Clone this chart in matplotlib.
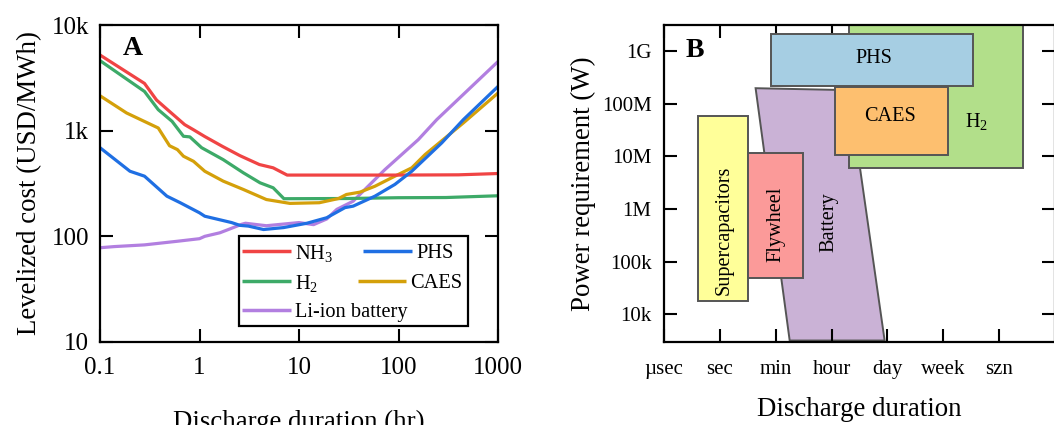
import matplotlib
matplotlib.use("Agg")
import matplotlib.pyplot as plt
from matplotlib.patches import Rectangle, Polygon
from matplotlib.ticker import FixedLocator, NullLocator

plt.rcParams["font.family"] = ["Liberation Serif", "DejaVu Serif"]
plt.rcParams["mathtext.fontset"] = "custom"
plt.rcParams["mathtext.rm"] = "Liberation Serif"
plt.rcParams["mathtext.it"] = "Liberation Serif:italic"

# ---- A: levelized cost vs discharge duration (hr) ----
nh3_x = [0.1, 0.28, 0.37, 0.5, 0.71, 0.87, 1.13, 1.7, 2.55, 4.0, 5.5, 7.6, 20, 100, 400, 1000]
nh3_y = [5200, 2800, 1950, 1520, 1140, 1020, 880, 710, 580, 478, 445, 380, 380, 380, 382, 393]

h2_x = [0.1, 0.28, 0.385, 0.53, 0.69, 0.8, 1.05, 1.73, 2.75, 4.06, 5.5, 7.06, 30, 100, 300, 1000]
h2_y = [4600, 2350, 1580, 1225, 885, 873, 690, 532, 400, 321, 288, 227, 228, 232, 233, 242]

caes_x = [0.1, 0.185, 0.385, 0.5, 0.6, 0.69, 0.87, 1.13, 1.73, 2.75, 4.7, 8.1, 16, 25, 30, 41,
          58, 92, 136, 185, 448, 1000]
caes_y = [2140, 1470, 1060, 720, 662, 573, 513, 413, 333, 278, 223, 205, 208, 228, 249, 262,
          298, 371, 445, 594, 1183, 2270]

phs_x = [0.1, 0.2, 0.28, 0.47, 0.64, 1.0, 1.13, 2.1, 2.55, 3.1, 4.4, 7, 12, 19, 29, 35,
         58, 92, 136, 272, 448, 1000]
phs_y = [690, 413, 371, 240, 208, 167, 155, 135, 127, 125, 116, 121, 133, 150, 187, 193,
         240, 310, 413, 766, 1270, 2620]

li_x = [0.1, 0.14, 0.28, 0.61, 1.0, 1.13, 1.6, 1.95, 2.65, 2.9, 4.7, 10, 14, 19, 24, 35,
        46, 73, 158, 242, 1000]
li_y = [78, 80, 83, 90, 95, 100, 108, 116, 130, 133, 126, 135, 129, 146, 180, 215,
        278, 428, 822, 1270, 4510]

cost_ticks = [10, 100, 1000, 10000]
cost_ticklabels = ["10", "100", "1k", "10k"]
hr_ticks = [0.1, 1, 10, 100, 1000]
hr_ticklabels = ["0.1", "1", "10", "100", "1000"]

# ---- B: power vs duration ranges (duration on a category scale) ----
duration_labels = ["\u00b5sec", "sec", "min", "hour", "day", "week", "szn"]
power_ticks = [1e4, 1e5, 1e6, 1e7, 1e8, 1e9]
power_ticklabels = ["10k", "100k", "1M", "10M", "100M", "1G"]

# name: (x0, x1, p0, p1)
tech_boxes = {
    "H2": (3.32, 6.43, 5.9e6, 4e9),
    "PHS": (1.92, 5.53, 2.14e8, 2.05e9),
    "CAES": (3.06, 5.08, 1.05e7, 2.07e8),
    "Supercapacitors": (0.60, 1.51, 1.78e4, 5.85e7),
    "Flywheel": (1.51, 2.49, 4.93e4, 1.16e7),
}
battery_x = [1.64, 3.31, 3.95, 2.25]
battery_p = [1.96e8, 1.8e8, 3.2e3, 3.2e3]

colors = {"NH3": "#F04444", "H2": "#3DAA68", "CAES": "#D4A00A",
          "PHS": "#1F6FE3", "Li": "#B27FE0"}
fills = {"H2": "#B2DF8A", "PHS": "#A6CEE3", "CAES": "#FDBF6F",
         "Supercapacitors": "#FFFF99", "Flywheel": "#FB9A99", "Battery": "#CAB2D6"}

fig = plt.figure(figsize=(10.54, 4.25), dpi=100)
ax1 = fig.add_axes([100 / 1054, 83 / 425, 398 / 1054, 317 / 425])
ax2 = fig.add_axes([664 / 1054, 83 / 425, 391 / 1054, 317 / 425])

lw = 2.3
ax1.plot(li_x, li_y, color=colors["Li"], lw=lw)
ax1.plot(h2_x, h2_y, color=colors["H2"], lw=lw)
ax1.plot(caes_x, caes_y, color=colors["CAES"], lw=lw)
ax1.plot(nh3_x, nh3_y, color=colors["NH3"], lw=lw)
ax1.plot(phs_x, phs_y, color=colors["PHS"], lw=lw)
ax1.set_xscale("log")
ax1.set_yscale("log")
ax1.set_xlim(0.1, 1000)
ax1.set_ylim(10, 10000)
ax1.xaxis.set_major_locator(FixedLocator(hr_ticks))
ax1.xaxis.set_minor_locator(NullLocator())
ax1.set_xticklabels(hr_ticklabels)
ax1.yaxis.set_major_locator(FixedLocator(cost_ticks))
ax1.yaxis.set_minor_locator(NullLocator())
ax1.set_yticklabels(cost_ticklabels)
ax1.tick_params(axis="x", labelsize=18, pad=11)
ax1.tick_params(axis="y", labelsize=18, pad=8)
ax1.set_xlabel("Discharge duration (hr)", fontsize=19.4, labelpad=22)
ax1.set_ylabel("Levelized cost (USD/MWh)", fontsize=19.4, labelpad=7)
ax1.text(0.058, 0.925, "A", transform=ax1.transAxes, fontsize=20,
         fontweight="bold", va="center", ha="left")

# hand-placed legend: Li-ion entry spans under both columns
leg_entries = [
    ("NH$_\\mathrm{3}$", colors["NH3"], 0.3575, 0.480, 0.287),
    ("H$_\\mathrm{2}$", colors["H2"], 0.3575, 0.480, 0.192),
    ("Li-ion battery", colors["Li"], 0.3575, 0.480, 0.101),
    ("PHS", colors["PHS"], 0.662, 0.785, 0.287),
    ("CAES", colors["CAES"], 0.649, 0.770, 0.192),
]
ax1.add_patch(Rectangle((0.349, 0.050), 0.576, 0.284, transform=ax1.transAxes,
                        facecolor="white", edgecolor="black", lw=1.6, zorder=5))
for label, c, x0, x1, y in leg_entries:
    ax1.plot([x0, x1], [y, y], color=c, lw=2.5, transform=ax1.transAxes,
             zorder=6, solid_capstyle="butt")
    ax1.text(x1 + 0.01, y, label, transform=ax1.transAxes, fontsize=14.7,
             va="center_baseline", ha="left", zorder=6)

# panel B
for name in ["H2", "PHS", "CAES"]:
    x0, x1, p0, p1 = tech_boxes[name]
    ax2.add_patch(Rectangle((x0, p0), x1 - x0, p1 - p0, facecolor=fills[name],
                            edgecolor="#555555", lw=1.4, zorder=2 if name == "H2" else 3))
ax2.add_patch(Polygon(list(zip(battery_x, battery_p)), closed=True,
                      facecolor=fills["Battery"], edgecolor="#555555", lw=1.4, zorder=1))
for name in ["Supercapacitors", "Flywheel"]:
    x0, x1, p0, p1 = tech_boxes[name]
    ax2.add_patch(Rectangle((x0, p0), x1 - x0, p1 - p0, facecolor=fills[name],
                            edgecolor="#555555", lw=1.4, zorder=3))

ax2.text(3.75, 7.2e8, "PHS", fontsize=14.6, ha="center", va="center", zorder=4)
ax2.text(4.05, 5.6e7, "CAES", fontsize=14.6, ha="center", va="center", zorder=4)
ax2.text(5.59, 4.5e7, "H$_\\mathrm{2}$", fontsize=14.6, ha="center", va="center", zorder=4)
ax2.text(1.075, 3.96e5, "Supercapacitors", fontsize=14.6, rotation=90,
         ha="center", va="center", zorder=4)
ax2.text(2.005, 5.1e5, "Flywheel", fontsize=14.6, rotation=90,
         ha="center", va="center", zorder=4)
ax2.text(2.96, 5.7e5, "Battery", fontsize=14.6, rotation=90,
         ha="center", va="center", zorder=4)

ax2.set_yscale("log")
ax2.set_xlim(0, 7)
ax2.set_ylim(3.0e3, 3.1e9)
ax2.set_xticks(range(len(duration_labels)))
ax2.set_xticklabels(duration_labels)
ax2.yaxis.set_major_locator(FixedLocator(power_ticks))
ax2.yaxis.set_minor_locator(NullLocator())
ax2.set_yticklabels(power_ticklabels)
ax2.tick_params(axis="x", labelsize=15, pad=13)
ax2.tick_params(axis="y", labelsize=15, pad=9)
ax2.set_xlabel("Discharge duration", fontsize=19.4, labelpad=13)
ax2.set_ylabel("Power requirement (W)", fontsize=19.4, labelpad=4)
ax2.text(0.056, 0.92, "B", transform=ax2.transAxes, fontsize=20,
         fontweight="bold", va="center", ha="left", zorder=5)

for ax in (ax1, ax2):
    ax.tick_params(which="both", direction="in", top=True, right=True,
                   length=9.5, width=1.5)
    for s in ax.spines.values():
        s.set_linewidth(1.6)
        s.set_zorder(10)

fig.savefig("out.png", dpi=100)
